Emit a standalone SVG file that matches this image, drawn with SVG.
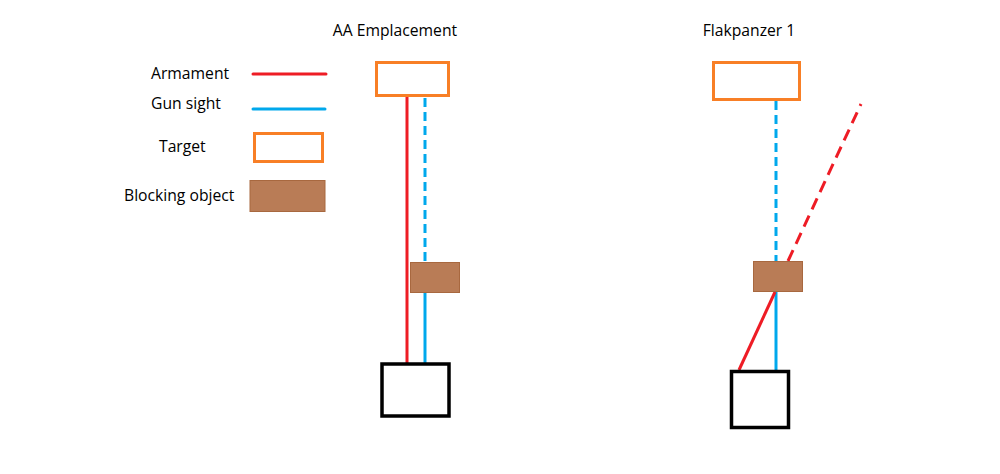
<svg xmlns="http://www.w3.org/2000/svg" width="1000" height="474" viewBox="0 0 1000 474">
<style>
text{font-family:"Open Sans","Noto Sans","Liberation Sans",sans-serif;font-size:15.7px;fill:#000}
.target{fill:#fff;stroke:#f87f26;stroke-width:3}
.block{fill:#b97c56;stroke:#a8683f;stroke-width:1}
.gun{fill:#fff;stroke:#000;stroke-width:3.5}
.arm{stroke:#ee1c25;stroke-width:3;fill:none;stroke-linecap:round}
.sight{stroke:#00a8ec;stroke-width:3;fill:none;stroke-linecap:round}
.dashb{stroke-dasharray:9 5;stroke-linecap:butt}
.dashr{stroke-dasharray:12 7;stroke-linecap:butt}
</style>
<rect width="1000" height="474" fill="#fff"/>
<g id="legend">
<text x="151" y="79">Armament</text>
<line class="arm" x1="253" y1="74" x2="326" y2="74"/>
<text x="151" y="109">Gun sight</text>
<line class="sight" x1="253" y1="109" x2="325" y2="109"/>
<text x="159" y="152">Target</text>
<rect class="target" x="254.5" y="133.5" width="68" height="28"/>
<text x="124" y="201">Blocking object</text>
<rect class="block" x="250" y="180.5" width="75" height="31"/>
</g>
<g id="title-aa"><text x="395" y="36" text-anchor="middle">AA Emplacement</text></g>
<g id="title-fp"><text x="749" y="36" text-anchor="middle">Flakpanzer 1</text></g>
<g id="connectors">
<line class="arm" x1="407" y1="96" x2="407" y2="363" style="stroke-linecap:butt"/>
<line class="sight dashb" x1="425" y1="98" x2="425" y2="262"/>
<line class="sight" x1="425" y1="292" x2="425" y2="363" style="stroke-linecap:butt"/>
<line class="sight dashb" x1="776" y1="101" x2="776" y2="261"/>
<line class="sight" x1="776" y1="292" x2="776" y2="371" style="stroke-linecap:butt"/>
<line class="arm" x1="739" y1="370" x2="775" y2="292" style="stroke-linecap:butt"/>
<line class="arm dashr" x1="788" y1="261" x2="861" y2="104"/>
</g>
<g id="aa-target"><rect class="target" x="376.5" y="62.5" width="72" height="33"/></g>
<g id="aa-block"><rect class="block" x="410.5" y="262.5" width="49" height="30"/></g>
<g id="aa-gun"><rect class="gun" x="382" y="364" width="67" height="52"/></g>
<g id="fp-target"><rect class="target" x="713.5" y="62.5" width="86" height="37"/></g>
<g id="fp-block"><rect class="block" x="753.5" y="261.5" width="49" height="30"/></g>
<g id="fp-gun"><rect class="gun" x="731.5" y="371.5" width="57" height="56"/></g>
</svg>
